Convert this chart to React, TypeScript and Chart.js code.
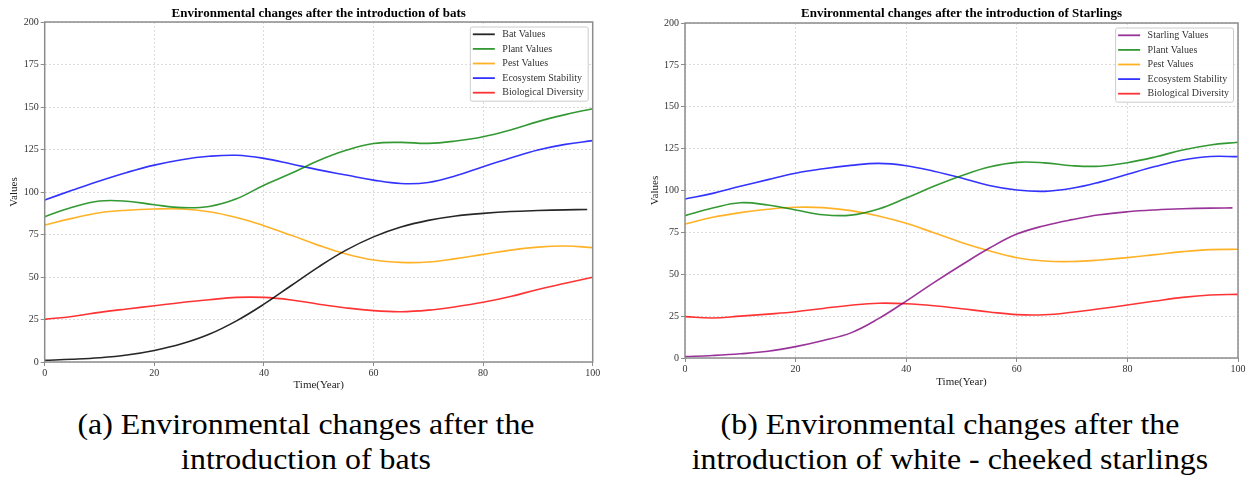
import React, { useEffect, useRef } from "react";
import { Chart, registerables } from "chart.js";

Chart.register(...registerables);
Chart.defaults.font.family = "'Liberation Serif', 'Times New Roman', serif";

// ---------- data ----------
const TIME = [0, 5, 10, 15, 20, 25, 30, 35, 40, 45, 50, 55, 60, 65, 70, 75, 80, 85, 90, 95, 100];
const TIME_ANIMAL = [0, 5, 10, 15, 20, 25, 30, 35, 40, 45, 50, 55, 60, 65, 70, 75, 80, 85, 90, 95, 99];

const X_TICKS = [0, 20, 40, 60, 80, 100];
const Y_TICKS = [0, 25, 50, 75, 100, 125, 150, 175, 200];

// (a) bats
const BAT_VALUES = [1, 1.6, 2.5, 4.1, 6.8, 10.7, 16.3, 24.2, 34, 45, 56, 65.8, 73.6, 79.4, 83.3, 85.9, 87.4, 88.5, 89.1, 89.5, 89.7];
const PLANT_A = [85.5, 91, 94.7, 94.6, 92.5, 90.8, 91.5, 96, 104, 111, 118.5, 124.5, 128.5, 129.2, 128.6, 130, 132.5, 136.5, 141.4, 145.5, 149];
const PEST_A = [80.6, 84.5, 87.8, 89.3, 90, 90, 88.4, 85, 80.2, 74.5, 68.6, 63.5, 60, 58.6, 58.8, 60.8, 63.3, 65.8, 67.6, 68.2, 67.3];
const STABILITY_A = [95.3, 101, 106.5, 111.5, 115.8, 119, 121, 121.6, 119.8, 116.5, 113, 110, 107, 105, 105.6, 109.5, 114.9, 120, 124.7, 128, 130.2];
const DIVERSITY_A = [25.1, 26.8, 29.2, 31.2, 33.1, 35, 36.6, 38, 38, 36.5, 34, 31.8, 30.2, 29.6, 30.5, 32.5, 35.1, 38.5, 42.7, 46.3, 49.8];

// (b) starlings
const STARLING_VALUES = [0.8, 1.5, 2.5, 4, 6.8, 10.5, 15, 23.5, 34, 45, 55.5, 65.5, 74, 79, 82.6, 85.5, 87.3, 88.4, 89.1, 89.5, 89.6];
const PLANT_B = [85, 89.5, 92.7, 91.3, 88.4, 85.5, 85.3, 89, 95.5, 102.5, 108.8, 114, 116.8, 116.5, 114.8, 114.5, 116.6, 120, 124.2, 127.2, 128.8];
const PEST_B = [80, 84, 86.8, 88.8, 90, 89.8, 88, 84.8, 80.4, 74.8, 69, 64, 59.9, 57.9, 57.6, 58.5, 59.9, 61.7, 63.5, 64.7, 64.9];
const STABILITY_B = [94.9, 98.3, 102.5, 106.5, 110.3, 113, 115, 116.2, 114.8, 111.5, 107.5, 103, 100.3, 99.5, 101.3, 105, 109.7, 114.3, 118.2, 120.3, 120.2];
const DIVERSITY_B = [24.7, 23.9, 25, 26.2, 27.6, 29.6, 31.5, 32.7, 32.4, 31.2, 29.4, 27.5, 25.9, 25.8, 27.3, 29.4, 31.6, 34, 36.2, 37.6, 38];

const TITLE_A = "Environmental changes after the introduction of bats";
const TITLE_B = "Environmental changes after the introduction of Starlings";
const CAPTION_A = ["(a) Environmental changes after the", "introduction of bats"];
const CAPTION_B = ["(b) Environmental changes after the", "introduction of white - cheeked starlings"];

const COLORS = {
  black: "rgba(0,0,0,0.85)",
  purple: "rgba(128,0,128,0.8)",
  green: "rgba(0,128,0,0.8)",
  orange: "rgba(255,165,0,0.85)",
  blue: "rgba(0,0,255,0.8)",
  red: "rgba(255,0,0,0.8)",
};

const zip = (xs: number[], ys: number[]) => xs.map((x, i) => ({ x, y: ys[i] }));

const line = (label: string, xs: number[], ys: number[], color: string) => ({
  label,
  data: zip(xs, ys),
  borderColor: color,
  backgroundColor: color,
  borderWidth: 1.6,
  pointRadius: 0,
  fill: false,
  tension: 0.4,
});

const DATASETS_A = () => [
  line("Bat Values", TIME_ANIMAL, BAT_VALUES, COLORS.black),
  line("Plant Values", TIME, PLANT_A, COLORS.green),
  line("Pest Values", TIME, PEST_A, COLORS.orange),
  line("Ecosystem Stability", TIME, STABILITY_A, COLORS.blue),
  line("Biological Diversity", TIME, DIVERSITY_A, COLORS.red),
];
const DATASETS_B = () => [
  line("Starling Values", TIME_ANIMAL, STARLING_VALUES, COLORS.purple),
  line("Plant Values", TIME, PLANT_B, COLORS.green),
  line("Pest Values", TIME, PEST_B, COLORS.orange),
  line("Ecosystem Stability", TIME, STABILITY_B, COLORS.blue),
  line("Biological Diversity", TIME, DIVERSITY_B, COLORS.red),
];

// ---------- plugin: frame + inner legend ----------
const frameAndLegend = {
  id: "frameAndLegend",
  afterDatasetsDraw(chart: any) {
    const { ctx, chartArea: a } = chart;
    ctx.save();
    ctx.strokeStyle = "#8c8c8c";
    ctx.lineWidth = 1.5;
    ctx.strokeRect(a.left, a.top, a.right - a.left, a.bottom - a.top);

    const items = chart.data.datasets;
    ctx.font = "10px 'Liberation Serif'";
    const textW = Math.max(...items.map((d: any) => ctx.measureText(d.label).width));
    const rowH = 14.6;
    const boxW = 32 + textW + 4.5;
    const boxH = 7.3 + rowH * (items.length - 1) + 8.5;
    const bx = a.right - 4.5 - boxW;
    const by = a.top + 5;
    ctx.beginPath();
    const r = 2;
    ctx.moveTo(bx + r, by);
    ctx.lineTo(bx + boxW - r, by);
    ctx.quadraticCurveTo(bx + boxW, by, bx + boxW, by + r);
    ctx.lineTo(bx + boxW, by + boxH - r);
    ctx.quadraticCurveTo(bx + boxW, by + boxH, bx + boxW - r, by + boxH);
    ctx.lineTo(bx + r, by + boxH);
    ctx.quadraticCurveTo(bx, by + boxH, bx, by + boxH - r);
    ctx.lineTo(bx, by + r);
    ctx.quadraticCurveTo(bx, by, bx + r, by);
    ctx.closePath();
    ctx.fillStyle = "rgba(255,255,255,0.9)";
    ctx.fill();
    ctx.strokeStyle = "#cccccc";
    ctx.lineWidth = 1;
    ctx.stroke();

    items.forEach((d: any, i: number) => {
      const y = by + 7.3 + i * rowH;
      ctx.beginPath();
      ctx.strokeStyle = d.borderColor;
      ctx.lineWidth = 1.8;
      ctx.moveTo(bx + 2.5, y);
      ctx.lineTo(bx + 24.5, y);
      ctx.stroke();
      ctx.fillStyle = "#333";
      ctx.textBaseline = "middle";
      ctx.textAlign = "left";
      ctx.fillText(d.label, bx + 32, y);
    });
    ctx.restore();
  },
};

type Cfg = {
  title: string;
  datasets: any[];
  width: number;
  height: number;
  yWidth: number;
  plotBottom: number;
  padRight: number;
  titlePadTop: number;
  titlePadBottom: number;
  yTitlePad: number;
  xTitlePad: number;
};

function EnvChart(props: Cfg & { left: number }) {
  const ref = useRef<HTMLCanvasElement | null>(null);
  useEffect(() => {
    if (!ref.current) return;
    const tickFont = { size: 10, family: "'Liberation Serif'" };
    const chart = new Chart(ref.current, {
      type: "line",
      data: { datasets: props.datasets },
      plugins: [frameAndLegend],
      options: {
        animation: false,
        responsive: false,
        maintainAspectRatio: false,
        layout: { padding: { top: 0, left: 0, bottom: 0, right: props.padRight } },
        plugins: {
          legend: { display: false },
          tooltip: { enabled: false },
          title: {
            display: true,
            text: props.title,
            fullSize: false,
            color: "#000",
            font: { size: 13, weight: "bold", family: "'Liberation Serif'", lineHeight: 1.2 },
            padding: { top: props.titlePadTop, bottom: props.titlePadBottom },
          },
        },
        scales: {
          x: {
            type: "linear",
            min: 0,
            max: 100,
            afterBuildTicks: (s: any) => {
              s.ticks = X_TICKS.map((v) => ({ value: v }));
            },
            afterFit: (s: any) => {
              s.height = props.height - props.plotBottom;
            },
            ticks: { font: tickFont, color: "#333", padding: 1, maxRotation: 0 },
            grid: { color: "#d4d4d4", lineWidth: 0.8, tickLength: 4, tickColor: "#8c8c8c", tickWidth: 1, tickBorderDash: [] },
            border: { display: false, dash: [2, 2] },
            title: {
              display: true,
              text: "Time(Year)",
              color: "#222",
              font: { size: 11, family: "'Liberation Serif'", lineHeight: 1.2 },
              padding: { top: props.xTitlePad, bottom: props.xTitlePad },
            },
          },
          y: {
            type: "linear",
            min: 0,
            max: 200,
            afterBuildTicks: (s: any) => {
              s.ticks = Y_TICKS.map((v) => ({ value: v }));
            },
            afterFit: (s: any) => {
              s.width = props.yWidth;
            },
            ticks: { font: tickFont, color: "#333", padding: 2 },
            grid: { color: "#d4d4d4", lineWidth: 0.8, tickLength: 4, tickColor: "#8c8c8c", tickWidth: 1, tickBorderDash: [] },
            border: { display: false, dash: [2, 2] },
            title: {
              display: true,
              text: "Values",
              color: "#222",
              font: { size: 11, family: "'Liberation Serif'", lineHeight: 1.2 },
              padding: { top: props.yTitlePad, bottom: props.yTitlePad },
            },
          },
        },
      } as any,
    });
    return () => chart.destroy();
  }, []);
  return (
    <canvas
      ref={ref}
      width={props.width}
      height={props.height}
      style={{ position: "absolute", left: props.left, top: 0, width: props.width, height: props.height }}
    />
  );
}

function Caption({ lines, center }: { lines: string[]; center: number }) {
  return (
    <div
      style={{
        position: "absolute",
        left: center - 320,
        width: 640,
        top: 407,
        textAlign: "center",
        fontFamily: "'Liberation Serif', 'Times New Roman', serif",
        fontSize: 29,
        lineHeight: "35px",
        color: "#000",
        whiteSpace: "nowrap",
        transform: "scaleX(1.1)",
        transformOrigin: "50% 50%",
      }}
    >
      {lines.map((l, i) => (
        <div key={i}>{l}</div>
      ))}
    </div>
  );
}

export default function App() {
  useEffect(() => {
    document.body.style.margin = "0";
    document.body.style.background = "#fff";
  }, []);
  return (
    <div style={{ position: "relative", width: 1247, height: 477, overflow: "hidden", background: "#fff" }}>
      <EnvChart
        left={0}
        title={TITLE_A}
        datasets={DATASETS_A()}
        width={620}
        height={400}
        yWidth={44.7}
        plotBottom={362}
        padRight={620 - 592.7}
        titlePadTop={5.5}
        titlePadBottom={0.9}
        yTitlePad={7.4}
        xTitlePad={8.4}
      />
      <EnvChart
        left={640}
        title={TITLE_B}
        datasets={DATASETS_B()}
        width={607}
        height={400}
        yWidth={45}
        plotBottom={358}
        padRight={9}
        titlePadTop={6}
        titlePadBottom={1.4}
        yTitlePad={8.4}
        xTitlePad={11.4}
      />
      <Caption lines={CAPTION_A} center={306} />
      <Caption lines={CAPTION_B} center={950} />
    </div>
  );
}
